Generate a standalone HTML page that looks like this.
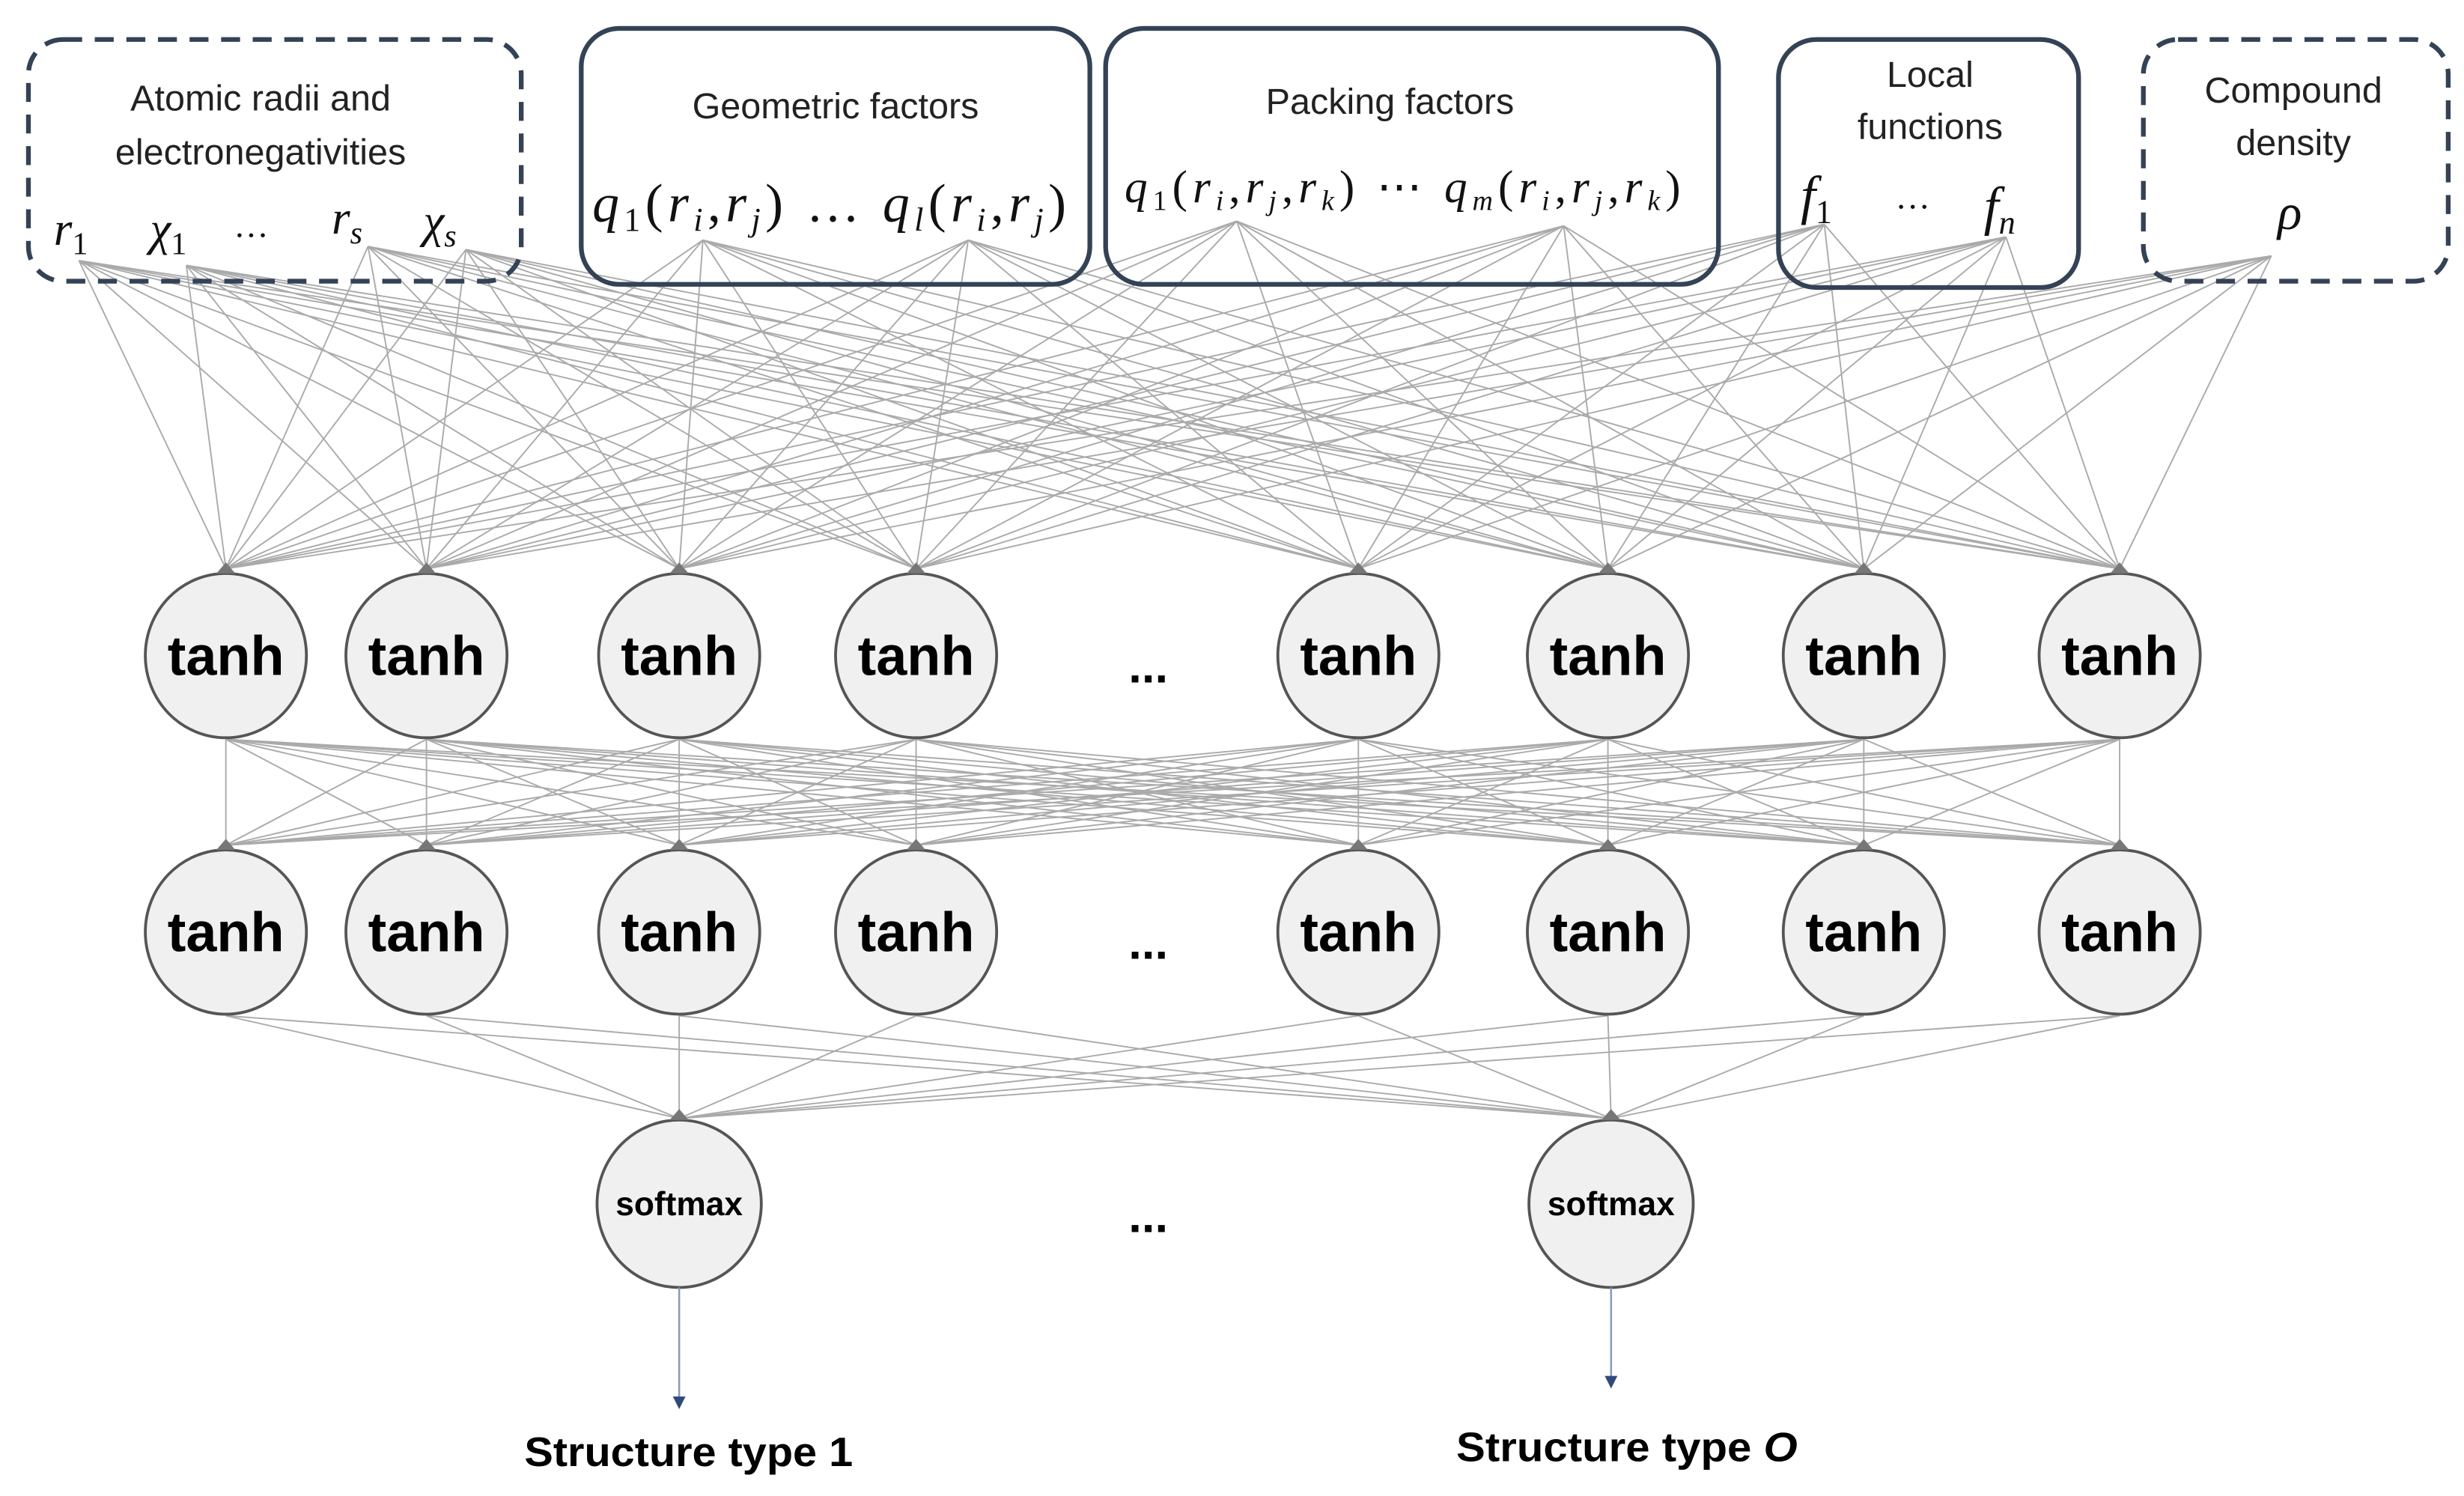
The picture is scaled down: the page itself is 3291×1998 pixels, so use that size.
<!DOCTYPE html>
<html><head><meta charset="utf-8"><style>
html,body{margin:0;padding:0;background:#fff;width:3291px;height:1998px;overflow:hidden}
svg{display:block}
.t{font-family:"Liberation Sans",sans-serif;fill:#222}
.m{font-family:"Liberation Serif",serif;font-style:italic;fill:#111}
.b{font-family:"Liberation Sans",sans-serif;font-weight:bold;fill:#000}
</style></head><body>
<svg id="s" width="3291" height="1998" viewBox="0 0 1560 947" preserveAspectRatio="none" xmlns="http://www.w3.org/2000/svg">
<g id="lines" stroke="#aaaaaa" stroke-width="0.9" fill="none"></g>
<rect x="18" y="25" width="312" height="153" rx="22" fill="none" stroke="#344256" stroke-width="3" stroke-dasharray="12,8"/>
<rect x="368" y="18" width="322" height="162" rx="24" fill="none" stroke="#344256" stroke-width="3"/>
<rect x="700" y="18" width="388" height="162" rx="24" fill="none" stroke="#344256" stroke-width="3"/>
<rect x="1126" y="25" width="190" height="157" rx="24" fill="none" stroke="#344256" stroke-width="3"/>
<rect x="1357" y="25" width="193" height="153" rx="22" fill="none" stroke="#344256" stroke-width="3" stroke-dasharray="12,8"/>
<g class="t" font-size="23" text-anchor="middle">
<text x="165" y="70">Atomic radii and</text>
<text x="165" y="104">electronegativities</text>
<text x="529" y="75">Geometric factors</text>
<text x="880" y="72">Packing factors</text>
<text x="1222" y="55">Local</text>
<text x="1222" y="88">functions</text>
<text x="1452" y="65">Compound</text>
<text x="1452" y="98">density</text>
</g>
<g class="m" font-size="30">
<text x="34" y="155">r<tspan font-size="20" font-style="normal" dy="6">1</tspan></text>
<text x="95" y="155">χ<tspan font-size="20" font-style="normal" dy="6">1</tspan></text>
<text x="148" y="150" font-style="normal" font-size="22">…</text>
<text x="210" y="148">r<tspan font-size="20" dy="6">s</tspan></text>
<text x="268" y="150">χ<tspan font-size="20" dy="6">s</tspan></text>
<text x="375" y="140" font-size="34" textLength="300" lengthAdjust="spacing">q<tspan font-size="21" font-style="normal" dy="6">1</tspan><tspan dy="-6" font-style="normal">(</tspan>r<tspan font-size="21" dy="6">i</tspan><tspan dy="-6" font-style="normal">,</tspan>r<tspan font-size="21" dy="6">j</tspan><tspan dy="-6" font-style="normal">) … </tspan>q<tspan font-size="21" dy="6">l</tspan><tspan dy="-6" font-style="normal">(</tspan>r<tspan font-size="21" dy="6">i</tspan><tspan dy="-6" font-style="normal">,</tspan>r<tspan font-size="21" dy="6">j</tspan><tspan dy="-6" font-style="normal">)</tspan></text>
<text x="712" y="128" font-size="29" textLength="352" lengthAdjust="spacing">q<tspan font-size="18" font-style="normal" dy="5">1</tspan><tspan dy="-5" font-style="normal">(</tspan>r<tspan font-size="18" dy="5">i</tspan><tspan dy="-5" font-style="normal">,</tspan>r<tspan font-size="18" dy="5">j</tspan><tspan dy="-5" font-style="normal">,</tspan>r<tspan font-size="18" dy="5">k</tspan><tspan dy="-5" font-style="normal">) ⋯ </tspan>q<tspan font-size="18" dy="5">m</tspan><tspan dy="-5" font-style="normal">(</tspan>r<tspan font-size="18" dy="5">i</tspan><tspan dy="-5" font-style="normal">,</tspan>r<tspan font-size="18" dy="5">j</tspan><tspan dy="-5" font-style="normal">,</tspan>r<tspan font-size="18" dy="5">k</tspan><tspan dy="-5" font-style="normal">)</tspan></text>
<text x="1140" y="135" font-size="34">f<tspan font-size="21" font-style="normal" dy="6">1</tspan></text>
<text x="1200" y="132" font-style="normal" font-size="22">…</text>
<text x="1256" y="142" font-size="34">f<tspan font-size="21" dy="6">n</tspan></text>
<text x="1442" y="145" font-size="32">ρ</text>
</g>
<g id="nodes"></g>
<g class="b" font-size="30" text-anchor="middle">
<text x="727" y="432">...</text>
<text x="727" y="607">...</text>
<text x="727" y="780">...</text>
</g>
<line x1="430" y1="815" x2="430" y2="885" stroke="#8a9ab8" stroke-width="1.2"/>
<polygon points="426,884 434,884 430,892" fill="#2f4a7a"/>
<line x1="1020" y1="815" x2="1020" y2="872" stroke="#8a9ab8" stroke-width="1.2"/>
<polygon points="1016,871 1024,871 1020,879" fill="#2f4a7a"/>
<text class="b" x="332" y="928" font-size="26" textLength="208" lengthAdjust="spacingAndGlyphs">Structure type 1</text>
<text class="b" x="922" y="925" font-size="26" textLength="216" lengthAdjust="spacingAndGlyphs">Structure type <tspan font-style="italic">O</tspan></text>
</svg>
<script>
var NS="http://www.w3.org/2000/svg";
var L=document.getElementById("lines"),N=document.getElementById("nodes");
function ln(a,b,c,d){var e=document.createElementNS(NS,"line");e.setAttribute("x1",a);e.setAttribute("y1",b);e.setAttribute("x2",c);e.setAttribute("y2",d);L.appendChild(e);}
var src=[[50,165],[118,168],[233,156],[295,158],[445,152],[613,152],[783,140],[990,143],[1155,142],[1270,150],[1438,162]];
var xs=[143,270,430,580,860,1018,1180,1342];
src.forEach(function(s){xs.forEach(function(x){ln(s[0],s[1],x,360);});});
xs.forEach(function(a){xs.forEach(function(b){ln(a,468,b,535);});});
xs.forEach(function(a){[430,1020].forEach(function(b){ln(a,643,b,708);});});
function node(x,y,r,t,fs){var c=document.createElementNS(NS,"ellipse");c.setAttribute("cx",x);c.setAttribute("cy",y);c.setAttribute("rx",r);c.setAttribute("ry",r+1);c.setAttribute("fill","#f0f0f0");c.setAttribute("stroke","#555");c.setAttribute("stroke-width","1.8");N.appendChild(c);
var p=document.createElementNS(NS,"polygon");p.setAttribute("points",(x-6)+","+(y-r-1)+" "+(x+6)+","+(y-r-1)+" "+x+","+(y-r-8));p.setAttribute("fill","#777");N.appendChild(p);
var tx=document.createElementNS(NS,"text");tx.setAttribute("x",x);tx.setAttribute("y",y+fs*0.35);tx.setAttribute("class","b");tx.setAttribute("font-size",fs);tx.setAttribute("text-anchor","middle");tx.textContent=t;N.appendChild(tx);}
xs.forEach(function(x){node(x,415,51,"tanh",35);node(x,590,51,"tanh",35);});
node(430,762,52,"softmax",21);node(1020,762,52,"softmax",21);
</script>
</body></html>
